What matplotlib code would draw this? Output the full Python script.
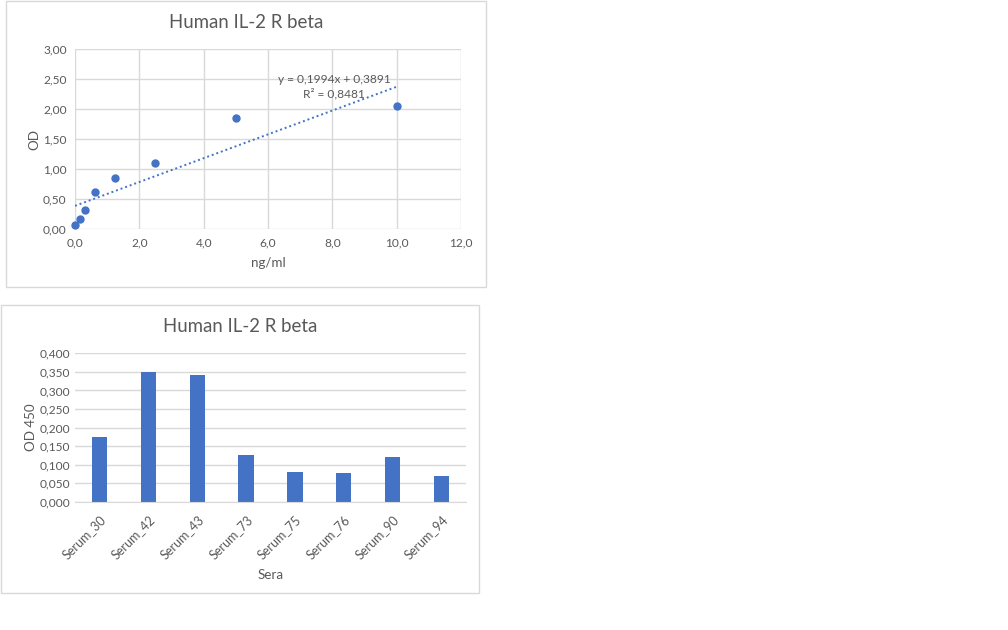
import numpy as np
import matplotlib
matplotlib.use('Agg')
import matplotlib.pyplot as plt
from matplotlib.patches import Rectangle
from matplotlib.ticker import FuncFormatter, MultipleLocator

plt.rcParams['font.family'] = ['Lato', 'DejaVu Sans']

# standard curve
conc = [0.0, 0.156, 0.3125, 0.625, 1.25, 2.5, 5.0, 10.0]  # ng/ml
od = [0.061, 0.168, 0.318, 0.62, 0.855, 1.106, 1.844, 2.056]
trend_label = 'y = 0,1994x + 0,3891\nR² = 0,8481'

# sera
sera = ['Serum_30', 'Serum_42', 'Serum_43', 'Serum_73', 'Serum_75', 'Serum_76', 'Serum_90', 'Serum_94']
od450 = [0.175, 0.351, 0.342, 0.127, 0.081, 0.078, 0.121, 0.070]

blue = '#4472C4'
grid = '#D9D9D9'
txt = '#595959'

W, H = 1008, 630
fig = plt.figure(figsize=(W/100, H/100), dpi=100)

def box(x0, y0, x1, y1):
    fig.patches.append(Rectangle((x0/W, 1-y1/H), (x1-x0)/W, (y1-y0)/H,
                                 transform=fig.transFigure, fill=False,
                                 edgecolor=grid, linewidth=1))

def comma(fmt):
    return FuncFormatter(lambda v, p: fmt.format(v).replace('.', ','))

box(6, 1, 486, 287)
box(1, 305, 479, 593)

# --- top chart: scatter + linear trend
ax1 = fig.add_axes([75/W, 1-229/H, 386/W, 180/H])
ax1.set_xlim(0, 12)
ax1.set_ylim(0, 3)
ax1.xaxis.set_major_locator(MultipleLocator(2))
ax1.yaxis.set_major_locator(MultipleLocator(0.5))
ax1.xaxis.set_major_formatter(comma('{:.1f}'))
ax1.yaxis.set_major_formatter(comma('{:.2f}'))
ax1.grid(True, color=grid, linewidth=1)
ax1.set_axisbelow(True)
for s in ax1.spines.values():
    s.set_visible(False)
ax1.tick_params(length=0, labelsize=8.6, labelcolor=txt, pad=6)

k, b = np.polyfit(conc, od, 1)
xs = np.array([0, max(conc)])
ax1.plot(xs, k*xs + b, color=blue, linestyle=(0, (1, 1.5)), linewidth=1.4)
ax1.plot(conc, od, 'o', color=blue, markersize=5, clip_on=False, zorder=3)
ax1.text(8.05, 2.37, trend_label, ha='center', va='center', fontsize=8.6,
         color=txt, linespacing=1.35)
ax1.set_xlabel('ng/ml', fontsize=9.6, color=txt, labelpad=6)
ax1.set_ylabel('OD', fontsize=9.6, color=txt, labelpad=2)
fig.text(246/W, 1-22/H, 'Human IL-2 R beta', ha='center', va='center',
         fontsize=13.4, color=txt)

# --- bottom chart: bars
ax2 = fig.add_axes([75/W, 1-502/H, 391/W, 148.7/H])
pos = np.arange(len(sera))
ax2.bar(pos, od450, width=0.313, color=blue, zorder=2)
ax2.set_xlim(-0.5, len(sera)-0.5)
ax2.set_ylim(0, 0.4)
ax2.yaxis.set_major_locator(MultipleLocator(0.05))
ax2.yaxis.set_major_formatter(comma('{:.3f}'))
ax2.set_xticks(pos)
ax2.set_xticklabels(sera, rotation=45, ha='right', rotation_mode='anchor')
ax2.grid(True, axis='y', color=grid, linewidth=1)
ax2.set_axisbelow(True)
for s in ['top', 'right', 'left']:
    ax2.spines[s].set_visible(False)
ax2.spines['bottom'].set_color(grid)
ax2.tick_params(length=0, labelsize=8.6, labelcolor=txt)
ax2.tick_params(axis='x', pad=8, labelsize=9)
ax2.set_xlabel('Sera', fontsize=9.6, color=txt, labelpad=6)
ax2.set_ylabel('OD 450', fontsize=9.6, color=txt, labelpad=2)
fig.text(240/W, 1-327/H, 'Human IL-2 R beta', ha='center', va='center',
         fontsize=13.4, color=txt)

fig.savefig('out.png', dpi=100)
